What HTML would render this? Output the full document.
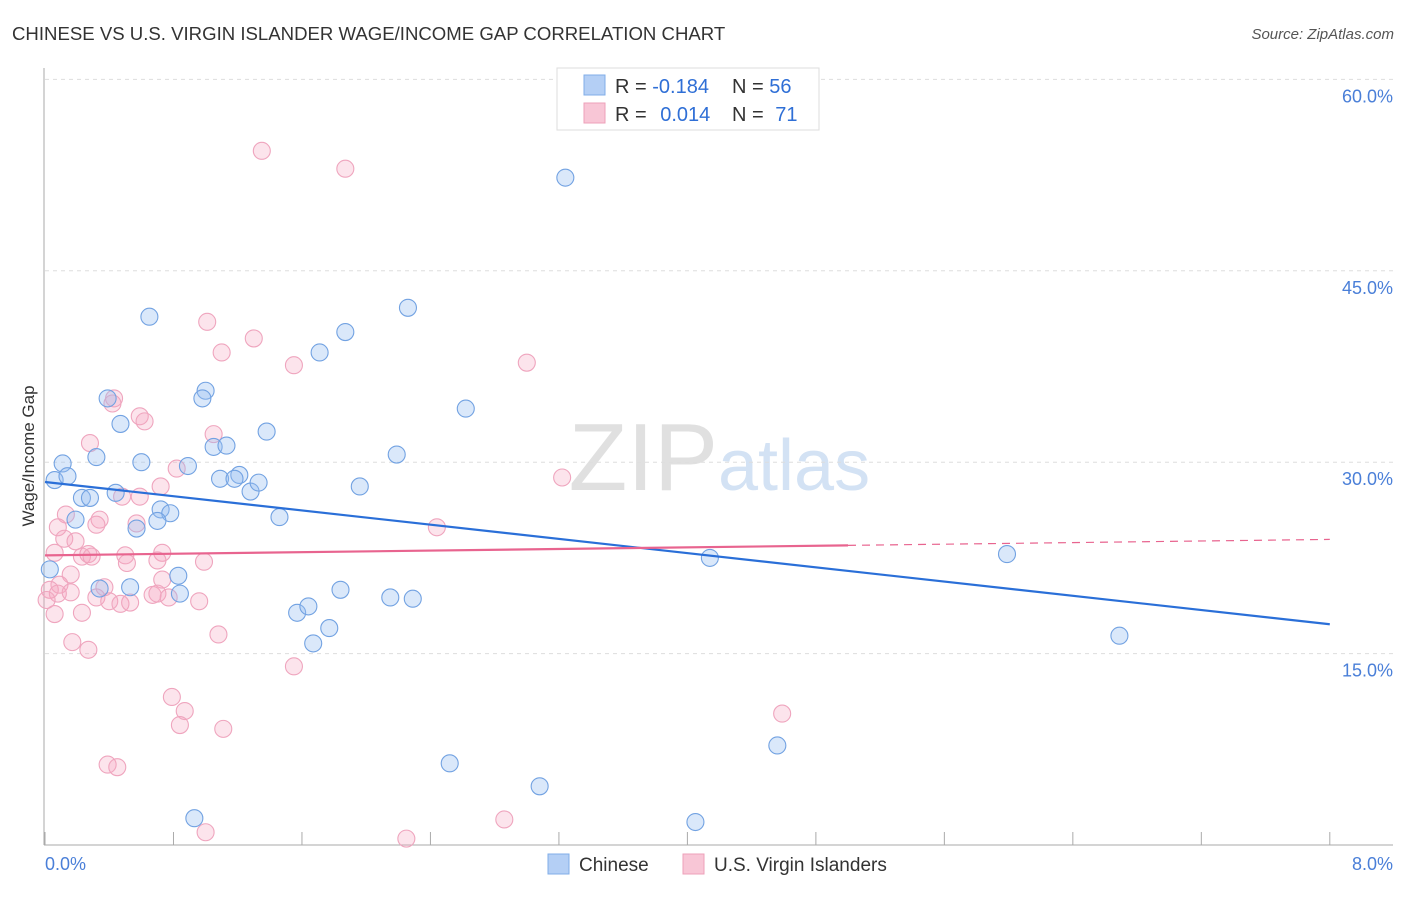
<!DOCTYPE html>
<html><head><meta charset="utf-8"><style>
body{margin:0;background:#fff;font-family:"Liberation Sans",sans-serif}
svg text{font-family:"Liberation Sans",sans-serif}
</style></head><body>
<svg id="chart" width="1406" height="892">
<text x="12" y="40" font-size="18.6" fill="#333">CHINESE VS U.S. VIRGIN ISLANDER WAGE/INCOME GAP CORRELATION CHART</text>
<text x="1394" y="39" font-size="15" fill="#555" font-style="italic" text-anchor="end">Source: ZipAtlas.com</text>
<text x="718" y="490" font-size="96" fill="#e0e0e0" font-family="Liberation Serif" text-anchor="end">ZIP</text>
<text x="718" y="490" font-size="72" fill="#d3e2f4">atlas</text>
<g id="grid"></g><g id="axes"></g><g id="pts"></g><g id="lines"></g>
<text transform="translate(34,456) rotate(-90)" font-size="17" fill="#333" text-anchor="middle">Wage/Income Gap</text>
<text x="45" y="870" font-size="18" fill="#4a7fd8">0.0%</text>
<text x="1393" y="870" font-size="18" fill="#4a7fd8" text-anchor="end">8.0%</text>
<g>
<rect x="557" y="68" width="262" height="62" fill="#fff" stroke="#ddd"/>
<rect x="584" y="75" width="21" height="20" fill="#b4cff5" stroke="#80aee8"/>
<rect x="584" y="103" width="21" height="20" fill="#f8c6d6" stroke="#eea0b9"/>
<text x="615" y="93" font-size="20" fill="#333">R = <tspan fill="#2f6fd6">-0.184</tspan></text>
<text x="732" y="93" font-size="20" fill="#333">N = <tspan fill="#2f6fd6">56</tspan></text>
<text x="615" y="121" font-size="20" fill="#333">R = <tspan fill="#2f6fd6" dx="8">0.014</tspan></text>
<text x="732" y="121" font-size="20" fill="#333">N = <tspan fill="#2f6fd6" dx="6">71</tspan></text>
</g>
<g>
<rect x="548" y="854" width="21" height="20" fill="#b4cff5" stroke="#80aee8"/>
<text x="579" y="871" font-size="19" fill="#333">Chinese</text>
<rect x="683" y="854" width="21" height="20" fill="#f8c6d6" stroke="#eea0b9"/>
<text x="714" y="871" font-size="19" fill="#333">U.S. Virgin Islanders</text>
</g>
</svg>
<script>
const yTicks=[15,30,45,60];
const xTicks=[0,0.8,1.6,2.4,3.2,4.0,4.8,5.6,6.4,7.2,8.0];
const blueX=[0.06,0.11,0.14,0.32,0.23,0.28,0.19,0.39,0.47,0.44,0.60,0.65,0.72,0.78,0.70,0.57,0.89,1.00,0.98,1.09,1.05,1.13,1.21,1.18,1.28,1.33,1.38,1.46,1.71,1.87,1.96,2.26,2.19,2.62,3.24,4.14,5.99,6.69,4.56,2.52,3.08,4.05,0.93,0.83,0.84,0.34,0.53,1.57,1.64,1.77,1.67,1.84,2.15,2.29,0.03];
const blueY=[28.6,29.9,28.9,30.4,27.2,27.2,25.5,35.0,33.0,27.6,30.0,41.4,26.3,26.0,25.4,24.8,29.7,35.6,35.0,28.7,31.2,31.3,29.0,28.7,27.7,28.4,32.4,25.7,38.6,40.2,28.1,42.1,30.6,34.2,52.3,22.5,22.8,16.4,7.8,6.4,4.6,1.8,2.1,21.1,19.7,20.1,20.2,18.2,18.7,17.0,15.8,20.0,19.4,19.3,21.6];
const pinkX=[1.35,1.87,1.01,1.30,1.10,1.55,3.00,0.43,0.42,0.59,0.62,0.28,1.05,0.82,0.72,0.59,0.48,3.22,2.44,0.13,0.08,0.34,0.32,0.57,0.12,0.19,0.06,0.23,0.27,0.29,0.50,0.73,0.70,0.99,0.51,0.16,0.09,0.03,0.37,0.73,0.08,0.16,0.32,0.40,0.47,0.53,0.67,0.70,0.77,0.96,0.06,0.23,0.17,0.27,1.08,1.55,0.79,0.87,0.84,1.11,4.59,0.39,0.45,1.00,2.25,2.86,0.01];
const pinkY=[54.4,53.0,41.0,39.7,38.6,37.6,37.8,35.0,34.6,33.6,33.2,31.5,32.2,29.5,28.1,27.3,27.3,28.8,24.9,25.9,24.9,25.5,25.1,25.2,24.0,23.8,22.9,22.6,22.8,22.6,22.7,22.9,22.3,22.2,22.1,21.2,20.4,20.0,20.2,20.8,19.7,19.8,19.4,19.1,18.9,19.0,19.6,19.7,19.4,19.1,18.1,18.2,15.9,15.3,16.5,14.0,11.6,10.5,9.4,9.1,10.3,6.3,6.1,1.0,0.5,2.0,19.2];
const blueTrend=[28.45,17.3];
const pinkTrend=[22.7,23.95];
const pinkSolidEnd=5.0;
const NS="http://www.w3.org/2000/svg";
const X=v=>45+v*160.6, Y=v=>845-v*12.76;
function mk(t,a,p){const e=document.createElementNS(NS,t);for(const k in a)e.setAttribute(k,a[k]);p.appendChild(e);return e;}
const grid=document.getElementById('grid'),axes=document.getElementById('axes'),pts=document.getElementById('pts'),lines=document.getElementById('lines');
yTicks.forEach(t=>{
 const g=mk('line',{x1:45,x2:1393,y1:Y(t),y2:Y(t),stroke:'#ddd','stroke-dasharray':'4,4'},grid);
 
 
 const l=mk('text',{x:1393,y:Y(t)+23,'font-size':18,fill:'#4a7fd8','text-anchor':'end'},grid);
 l.textContent=t.toFixed(1)+'%';
 
 
});
const ya=mk('line',{x1:44,x2:44,y1:68,y2:845,stroke:'#aaa'},axes);


const xa=mk('line',{x1:44,x2:1393,y1:845,y2:845,stroke:'#aaa'},axes);


xTicks.forEach(t=>{
 const e=mk('line',{x1:X(t),x2:X(t),y1:832,y2:845,stroke:'#aaa'},axes);
 
 
});
function dots(xs,ys,fill,stroke,name){
 xs.forEach((x,i)=>{
  const c=mk('circle',{cx:X(x),cy:Y(ys[i]),r:8.5,fill:fill,stroke:stroke,'stroke-width':1.1},pts);
  
  
 });
}
dots(pinkX,pinkY,'rgba(244,164,192,0.3)','#efa5be','virgin-islander-point');
dots(blueX,blueY,'rgba(150,188,240,0.35)','#72a2e2','chinese-point');
const bl=mk('line',{x1:X(0),y1:Y(blueTrend[0]),x2:X(8),y2:Y(blueTrend[1]),stroke:'#2a6fd8','stroke-width':2.2},lines);


const pe=pinkTrend[0]+(pinkTrend[1]-pinkTrend[0])*pinkSolidEnd/8;
const pl=mk('line',{x1:X(0),y1:Y(pinkTrend[0]),x2:X(pinkSolidEnd),y2:Y(pe),stroke:'#e8648f','stroke-width':2.2},lines);


const pd=mk('line',{x1:X(pinkSolidEnd),y1:Y(pe),x2:X(8),y2:Y(pinkTrend[1]),stroke:'#e8648f','stroke-width':1.2,'stroke-dasharray':'8,6'},lines);


</script>
</body></html>
